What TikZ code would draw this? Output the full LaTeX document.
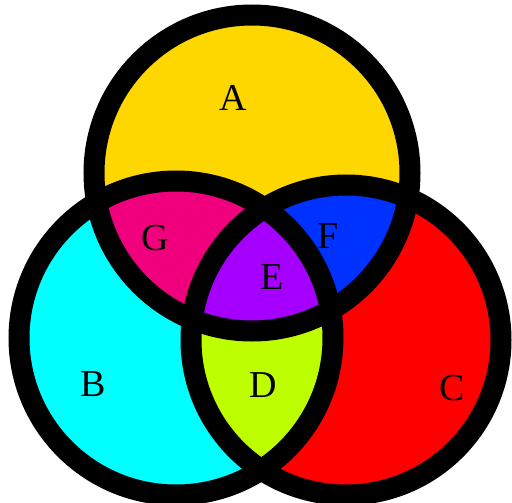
\documentclass[tikz,border=0pt]{standalone}
\usepackage{fontspec}
\setmainfont{Liberation Serif}
\definecolor{cA}{RGB}{255,215,0}
\definecolor{cB}{RGB}{0,255,255}
\definecolor{cC}{RGB}{255,0,0}
\definecolor{cG}{RGB}{240,0,125}
\definecolor{cF}{RGB}{0,50,255}
\definecolor{cE}{RGB}{165,0,255}
\definecolor{cD}{RGB}{190,255,0}
\tikzset{lab/.style={font=\fontsize{38}{38}\selectfont, inner sep=0pt, text=black, draw=none},
  ring/.style={line width=21pt, draw=black}}
\begin{document}
\begin{tikzpicture}[x=1pt,y=-1pt]
\useasboundingbox (0,0) rectangle (512,503);
\fill[white] (0,0) rectangle (512,503);
\def\circA{(252,173) circle[radius=158]}
\def\circB{(176,338) circle[radius=157]}
\def\circC{(346,340) circle[radius=155]}
\fill[cA] \circA;
\fill[cB] \circB;
\fill[cC] \circC;
\begin{scope}\clip \circA; \fill[cG] \circB; \end{scope}
\begin{scope}\clip \circA; \fill[cF] \circC; \end{scope}
\begin{scope}\clip \circB; \fill[cD] \circC; \end{scope}
\begin{scope}\clip \circA; \clip \circB; \fill[cE] \circC; \end{scope}
\draw[ring] \circA;
\draw[ring] \circB;
\draw[ring] \circC;
\node[lab] (A) at (233,98) {A};
\node[lab] (G) at (155,238) {G};
\node[lab] (F) at (328,236) {F};
\node[lab] (E) at (272,277) {E};
\node[lab] (D) at (263,385) {D};
\node[lab] (B) at (93,384) {B};
\node[lab] (C) at (452,388) {C};
\end{tikzpicture}
\end{document}
